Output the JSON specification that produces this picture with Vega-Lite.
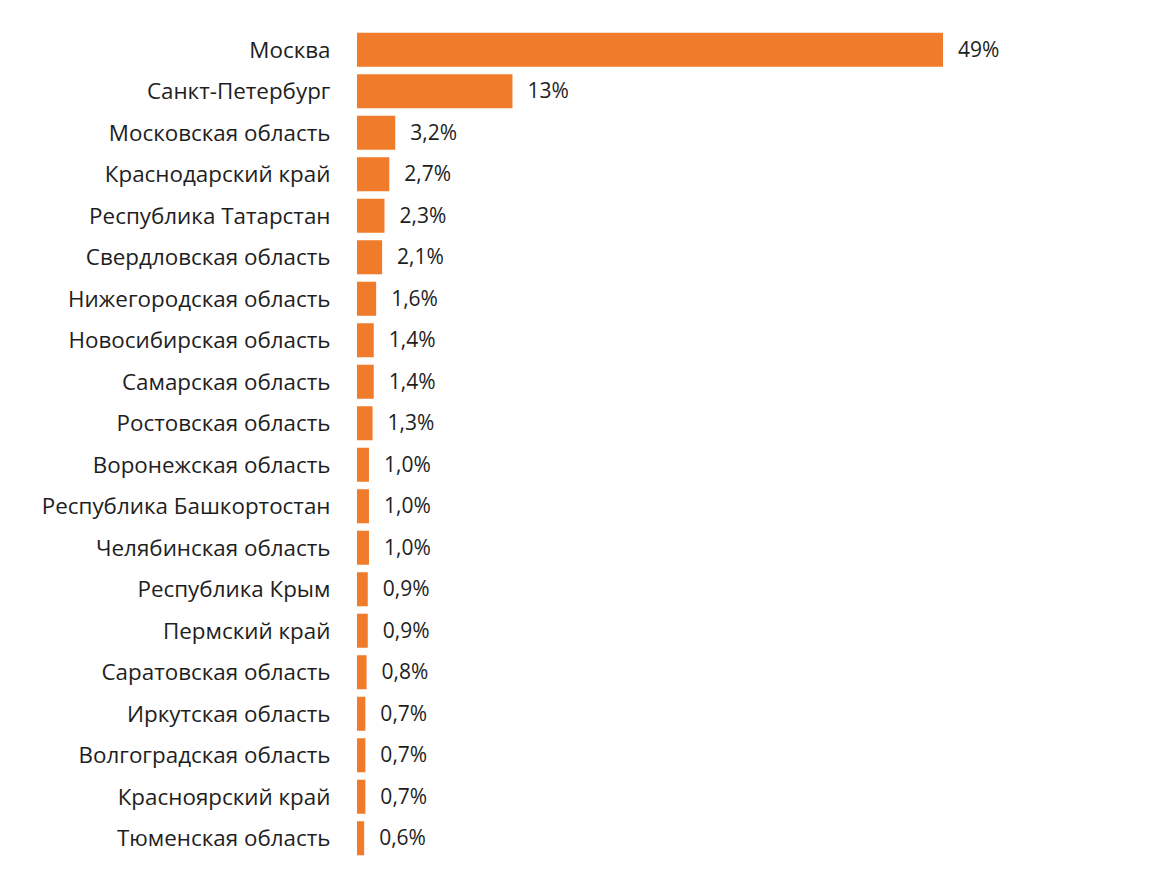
{
  "$schema": "https://vega.github.io/schema/vega-lite/v6.json",
  "autosize": {"type": "none"},
  "width": 586,
  "height": 830,
  "padding": {"left": 357, "top": 29, "right": 207, "bottom": 34},
  "background": "white",
  "config": {"view": {"stroke": null}},
  "data": {"values": [
    {"region": "Москва", "share": 49, "label": "49%"},
    {"region": "Санкт-Петербург", "share": 13, "label": "13%"},
    {"region": "Московская область", "share": 3.2, "label": "3,2%"},
    {"region": "Краснодарский край", "share": 2.7, "label": "2,7%"},
    {"region": "Республика Татарстан", "share": 2.3, "label": "2,3%"},
    {"region": "Свердловская область", "share": 2.1, "label": "2,1%"},
    {"region": "Нижегородская область", "share": 1.6, "label": "1,6%"},
    {"region": "Новосибирская область", "share": 1.4, "label": "1,4%"},
    {"region": "Самарская область", "share": 1.4, "label": "1,4%"},
    {"region": "Ростовская область", "share": 1.3, "label": "1,3%"},
    {"region": "Воронежская область", "share": 1.0, "label": "1,0%"},
    {"region": "Республика Башкортостан", "share": 1.0, "label": "1,0%"},
    {"region": "Челябинская область", "share": 1.0, "label": "1,0%"},
    {"region": "Республика Крым", "share": 0.9, "label": "0,9%"},
    {"region": "Пермский край", "share": 0.9, "label": "0,9%"},
    {"region": "Саратовская область", "share": 0.8, "label": "0,8%"},
    {"region": "Иркутская область", "share": 0.7, "label": "0,7%"},
    {"region": "Волгоградская область", "share": 0.7, "label": "0,7%"},
    {"region": "Красноярский край", "share": 0.7, "label": "0,7%"},
    {"region": "Тюменская область", "share": 0.6, "label": "0,6%"}
  ]},
  "encoding": {
    "y": {
      "field": "region", "type": "nominal", "sort": null,
      "scale": {"paddingInner": 0.18, "paddingOuter": 0.09},
      "axis": {"title": null, "domain": false, "ticks": false, "labelPadding": 27,
               "labelFont": "Open Sans", "labelFontSize": 22.4, "labelColor": "#1e1e1e", "labelLimit": 400, "labelOffset": 1}
    },
    "x": {
      "field": "share", "type": "quantitative",
      "scale": {"domain": [0, 49], "nice": false, "zero": true},
      "axis": null
    }
  },
  "layer": [
    {"mark": {"type": "bar", "color": "#F07B2B"}},
    {"mark": {"type": "text", "align": "left", "dx": 15, "dy": 1, "font": "Open Sans", "fontSize": 21, "color": "#1e1e1e"},
     "encoding": {"text": {"field": "label"}}}
  ]
}
